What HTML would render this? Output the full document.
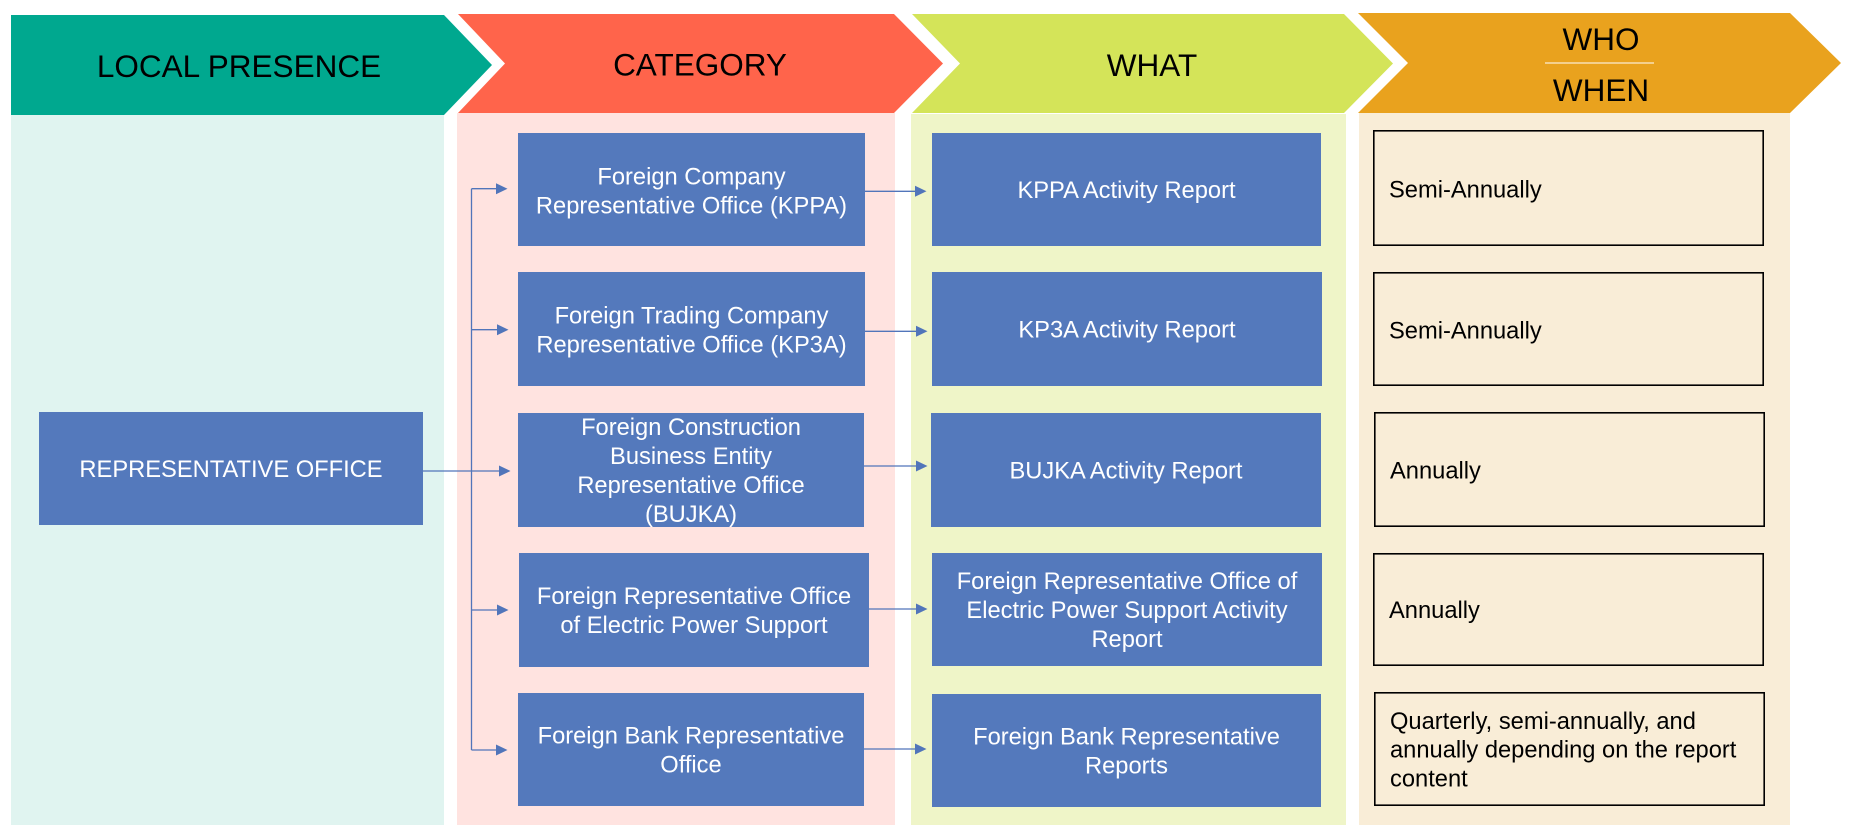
<!DOCTYPE html>
<html>
<head>
<meta charset="utf-8">
<style>
html,body{margin:0;padding:0;background:#fff;}
svg{display:block;}
text{font-family:"Liberation Sans",Arial,sans-serif;}
</style>
</head>
<body>
<svg width="1853" height="837" viewBox="0 0 1853 837" xmlns="http://www.w3.org/2000/svg">
  <rect x="0" y="0" width="1853" height="837" fill="#ffffff"/>

  <!-- column panels -->
  <rect x="11" y="114" width="433" height="711" fill="#E0F4F0"/>
  <rect x="457" y="113" width="438" height="712" fill="#FFE3E0"/>
  <rect x="911" y="114" width="435" height="711" fill="#EFF5C8"/>
  <rect x="1359" y="113" width="431" height="712" fill="#F9EDD7"/>

  <!-- header chevrons -->
  <polygon points="11,15 444,15 492,65 444,115 11,115" fill="#00A88F"/>
  <polygon points="458,14 894,14 943,63.5 894,113 458,113 505,63.5" fill="#FF644B"/>
  <polygon points="912,14 1344,14 1393,63.5 1344,113 912,113 960,63.5" fill="#D4E459"/>
  <polygon points="1358,13 1790,13 1841,63 1790,113 1358,113 1408,63" fill="#E9A21E"/>

  <!-- header labels -->
  <g font-size="31.5" fill="#000" text-anchor="middle">
    <text x="239" y="77">LOCAL PRESENCE</text>
    <text x="700" y="75.5">CATEGORY</text>
    <text x="1152" y="76">WHAT</text>
    <text x="1601" y="50">WHO</text>
    <text x="1601" y="101">WHEN</text>
  </g>
  <line x1="1545" y1="63" x2="1654" y2="63" stroke="#ffffff" stroke-width="1"/>

  <!-- blue boxes -->
  <g fill="#5479BC">
    <rect x="39" y="412" width="384" height="113"/>
    <rect x="518" y="133" width="347" height="113"/>
    <rect x="518" y="272" width="347" height="114"/>
    <rect x="518" y="413" width="346" height="114"/>
    <rect x="519" y="553" width="350" height="114"/>
    <rect x="518" y="693" width="346" height="113"/>
    <rect x="932" y="133" width="389" height="113"/>
    <rect x="932" y="272" width="390" height="114"/>
    <rect x="931" y="413" width="390" height="114"/>
    <rect x="932" y="553" width="390" height="113"/>
    <rect x="932" y="694" width="389" height="113"/>
  </g>

  <!-- blue box labels -->
  <g font-size="23.7" fill="#ffffff" text-anchor="middle">
    <text x="231" y="477.2">REPRESENTATIVE OFFICE</text>

    <text x="691.5" y="184.7">Foreign Company</text>
    <text x="691.5" y="213.7">Representative Office (KPPA)</text>

    <text x="691.5" y="323.7">Foreign Trading Company</text>
    <text x="691.5" y="352.7">Representative Office (KP3A)</text>

    <text x="691" y="435.2">Foreign Construction</text>
    <text x="691" y="464.2">Business Entity</text>
    <text x="691" y="493.2">Representative Office</text>
    <text x="691" y="522.2">(BUJKA)</text>

    <text x="694" y="604.2">Foreign Representative Office</text>
    <text x="694" y="633.2">of Electric Power Support</text>

    <text x="691" y="743.7">Foreign Bank Representative</text>
    <text x="691" y="772.7">Office</text>

    <text x="1126.5" y="198.2">KPPA Activity Report</text>
    <text x="1127" y="337.7">KP3A Activity Report</text>
    <text x="1126" y="478.7">BUJKA Activity Report</text>

    <text x="1127" y="589.2">Foreign Representative Office of</text>
    <text x="1127" y="618.2">Electric Power Support Activity</text>
    <text x="1127" y="647.2">Report</text>

    <text x="1126.5" y="744.7">Foreign Bank Representative</text>
    <text x="1126.5" y="773.7">Reports</text>
  </g>

  <!-- when boxes -->
  <g fill="none" stroke="#000" stroke-width="1.6">
    <rect x="1373.8" y="130.8" width="389.4" height="114.4"/>
    <rect x="1373.8" y="272.8" width="389.4" height="112.4"/>
    <rect x="1374.8" y="412.8" width="389.4" height="113.4"/>
    <rect x="1373.8" y="553.8" width="389.4" height="111.4"/>
    <rect x="1374.8" y="692.8" width="389.4" height="112.4"/>
  </g>
  <g font-size="23.7" fill="#000">
    <text x="1389" y="197.3">Semi-Annually</text>
    <text x="1389" y="338.3">Semi-Annually</text>
    <text x="1390" y="478.3">Annually</text>
    <text x="1389" y="618">Annually</text>
    <text x="1390" y="729">Quarterly, semi-annually, and</text>
    <text x="1390" y="757.7">annually depending on the report</text>
    <text x="1390" y="786.3">content</text>
  </g>

  <!-- connectors -->
  <g stroke="#5175BA" stroke-width="1.3" fill="none">
    <line x1="423" y1="471" x2="500" y2="471"/>
    <line x1="471.5" y1="188.7" x2="471.5" y2="750"/>
    <line x1="471.5" y1="188.7" x2="497" y2="188.7"/>
    <line x1="471.5" y1="329.7" x2="498" y2="329.7"/>
    <line x1="471.5" y1="610" x2="498" y2="610"/>
    <line x1="471.5" y1="750" x2="497" y2="750"/>
    <line x1="865" y1="191.3" x2="916" y2="191.3"/>
    <line x1="865" y1="331.3" x2="917" y2="331.3"/>
    <line x1="864" y1="466" x2="917" y2="466"/>
    <line x1="869" y1="609" x2="917" y2="609"/>
    <line x1="864" y1="749" x2="916" y2="749"/>
  </g>
  <g fill="#5175BA">
    <polygon points="499,465.5 510.5,471 499,476.5"/>
    <polygon points="496,183.2 507.5,188.7 496,194.2"/>
    <polygon points="497,324.2 508.5,329.7 497,335.2"/>
    <polygon points="497,604.5 508.5,610 497,615.5"/>
    <polygon points="496,744.5 507.5,750 496,755.5"/>
    <polygon points="915,185.8 926.5,191.3 915,196.8"/>
    <polygon points="916,325.8 927.5,331.3 916,336.8"/>
    <polygon points="916,460.5 927.5,466 916,471.5"/>
    <polygon points="916,603.5 927.5,609 916,614.5"/>
    <polygon points="915,743.5 926.5,749 915,754.5"/>
  </g>
</svg>
</body>
</html>
